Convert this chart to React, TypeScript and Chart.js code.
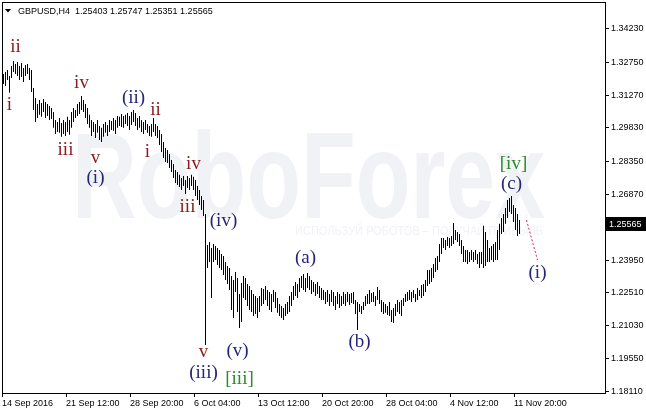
import React, { useEffect, useRef } from 'react';
import { Chart, registerables } from 'chart.js';

Chart.register(...registerables);

const symbolTitle = 'GBPUSD,H4';
const ohlcTitle = ['1.25403', '1.25747', '1.25351', '1.25565'];
const lastClose = 1.25565;

const highs = [
  1.3223, 1.3232, 1.3241, 1.3214, 1.3258, 1.3281, 1.3267, 1.3276, 1.3258, 1.3272,
  1.3249, 1.3263, 1.3267, 1.3249, 1.3241, 1.3160, 1.3116, 1.3089, 1.3107, 1.3094,
  1.3112, 1.3098, 1.3089, 1.3080, 1.3071, 1.3054, 1.3018, 1.3009, 1.3027, 1.3005,
  1.3018, 1.3009, 1.3032, 1.3018, 1.3054, 1.3071, 1.3063, 1.3089, 1.3098, 1.3125,
  1.3107, 1.3089, 1.3071, 1.3041, 1.3018, 1.3009, 1.3000, 1.3018, 1.2991, 1.2983,
  1.3000, 1.3009, 1.2996, 1.3018, 1.3014, 1.3027, 1.3018, 1.3036, 1.3032, 1.3045,
  1.3036, 1.3041, 1.3049, 1.3036, 1.3054, 1.3063, 1.3049, 1.3027, 1.3036, 1.3018,
  1.3009, 1.3018, 1.3000, 1.2991, 1.3000, 1.3027, 1.3000, 1.2991, 1.2974, 1.2956,
  1.2920, 1.2894, 1.2885, 1.2867, 1.2840, 1.2822, 1.2796, 1.2787, 1.2774, 1.2760,
  1.2769, 1.2751, 1.2769, 1.2760, 1.2774, 1.2765, 1.2751, 1.2724, 1.2707, 1.2680,
  1.2662, 1.2600, 1.2462, 1.2475, 1.2449, 1.2466, 1.2457, 1.2449, 1.2440, 1.2422,
  1.2413, 1.2386, 1.2369, 1.2360, 1.2324, 1.2306, 1.2342, 1.2315, 1.2244, 1.2293,
  1.2324, 1.2315, 1.2288, 1.2280, 1.2262, 1.2244, 1.2235, 1.2226, 1.2235, 1.2271,
  1.2266, 1.2280, 1.2262, 1.2253, 1.2244, 1.2262, 1.2253, 1.2226, 1.2199, 1.2190,
  1.2182, 1.2199, 1.2208, 1.2235, 1.2253, 1.2280, 1.2297, 1.2288, 1.2315, 1.2324,
  1.2333, 1.2315, 1.2337, 1.2324, 1.2306, 1.2297, 1.2288, 1.2297, 1.2280, 1.2271,
  1.2262, 1.2253, 1.2262, 1.2244, 1.2262, 1.2253, 1.2235, 1.2253, 1.2244, 1.2235,
  1.2253, 1.2244, 1.2253, 1.2244, 1.2248, 1.2253, 1.2217, 1.2208, 1.2199, 1.2190,
  1.2208, 1.2235, 1.2244, 1.2262, 1.2248, 1.2253, 1.2235, 1.2275, 1.2262, 1.2217,
  1.2208, 1.2199, 1.2190, 1.2208, 1.2173, 1.2182, 1.2199, 1.2217, 1.2208, 1.2217,
  1.2226, 1.2244, 1.2253, 1.2262, 1.2253, 1.2262, 1.2244, 1.2271, 1.2262, 1.2284,
  1.2288, 1.2306, 1.2351, 1.2351, 1.2360, 1.2377, 1.2404, 1.2413, 1.2466, 1.2493,
  1.2493, 1.2484, 1.2498, 1.2493, 1.2502, 1.2560, 1.2529, 1.2520, 1.2511, 1.2484,
  1.2457, 1.2440, 1.2440, 1.2431, 1.2440, 1.2431, 1.2440, 1.2422, 1.2431, 1.2431,
  1.2547, 1.2520, 1.2484, 1.2449, 1.2457, 1.2466, 1.2475, 1.2529, 1.2556, 1.2582,
  1.2600, 1.2627, 1.2662, 1.2671, 1.2680, 1.2640, 1.2627, 1.2600, 1.2573,
];

const lows = [
  1.3178, 1.3169, 1.3196, 1.3139, 1.3205, 1.3232, 1.3223, 1.3214, 1.3196, 1.3209,
  1.3187, 1.3214, 1.3223, 1.3196, 1.3143, 1.3063, 1.3009, 1.3027, 1.3041, 1.3032,
  1.3054, 1.3027, 1.3036, 1.3018, 1.3023, 1.2983, 1.2956, 1.2965, 1.2961, 1.2943,
  1.2956, 1.2947, 1.2965, 1.2952, 1.2983, 1.3009, 1.3027, 1.3036, 1.3045, 1.3063,
  1.3054, 1.3027, 1.3000, 1.2983, 1.2947, 1.2965, 1.2938, 1.2961, 1.2929, 1.2920,
  1.2943, 1.2961, 1.2947, 1.2965, 1.2974, 1.2970, 1.2956, 1.2983, 1.2991, 1.2987,
  1.2983, 1.3000, 1.2991, 1.2974, 1.2996, 1.3009, 1.2991, 1.2974, 1.2983, 1.2965,
  1.2956, 1.2974, 1.2961, 1.2947, 1.2943, 1.2965, 1.2947, 1.2938, 1.2907, 1.2876,
  1.2849, 1.2831, 1.2827, 1.2805, 1.2787, 1.2760, 1.2738, 1.2729, 1.2720, 1.2707,
  1.2724, 1.2689, 1.2716, 1.2707, 1.2724, 1.2707, 1.2680, 1.2662, 1.2640, 1.2618,
  1.2591, 1.2017, 1.2360, 1.2386, 1.2226, 1.2386, 1.2395, 1.2373, 1.2360, 1.2351,
  1.2328, 1.2306, 1.2288, 1.2262, 1.2173, 1.2137, 1.2253, 1.2164, 1.2093, 1.2119,
  1.2226, 1.2217, 1.2190, 1.2173, 1.2164, 1.2146, 1.2155, 1.2137, 1.2164, 1.2190,
  1.2199, 1.2217, 1.2190, 1.2173, 1.2164, 1.2208, 1.2182, 1.2160, 1.2146, 1.2137,
  1.2128, 1.2146, 1.2155, 1.2164, 1.2190, 1.2217, 1.2235, 1.2226, 1.2253, 1.2271,
  1.2262, 1.2253, 1.2271, 1.2262, 1.2244, 1.2253, 1.2235, 1.2244, 1.2226, 1.2217,
  1.2217, 1.2199, 1.2208, 1.2190, 1.2208, 1.2190, 1.2173, 1.2199, 1.2182, 1.2190,
  1.2199, 1.2190, 1.2208, 1.2195, 1.2204, 1.2199, 1.2155, 1.2084, 1.2164, 1.2155,
  1.2173, 1.2190, 1.2199, 1.2199, 1.2208, 1.2208, 1.2190, 1.2217, 1.2199, 1.2164,
  1.2155, 1.2160, 1.2150, 1.2146, 1.2119, 1.2115, 1.2146, 1.2164, 1.2155, 1.2146,
  1.2190, 1.2208, 1.2213, 1.2217, 1.2208, 1.2226, 1.2208, 1.2217, 1.2235, 1.2226,
  1.2235, 1.2253, 1.2280, 1.2288, 1.2297, 1.2315, 1.2342, 1.2351, 1.2386, 1.2422,
  1.2449, 1.2440, 1.2457, 1.2449, 1.2457, 1.2466, 1.2484, 1.2475, 1.2457, 1.2422,
  1.2386, 1.2386, 1.2377, 1.2386, 1.2395, 1.2386, 1.2395, 1.2377, 1.2360, 1.2377,
  1.2360, 1.2369, 1.2386, 1.2386, 1.2395, 1.2386, 1.2395, 1.2395, 1.2440, 1.2511,
  1.2520, 1.2556, 1.2582, 1.2609, 1.2600, 1.2564, 1.2529, 1.2502, 1.2511,
];

const dateLabels = ['14 Sep 2016', '21 Sep 12:00', '28 Sep 20:00', '6 Oct 04:00', '13 Oct 12:00', '20 Oct 20:00', '28 Oct 04:00', '4 Nov 12:00', '11 Nov 20:00'];
const dateBars = [0, 32, 64, 96, 128, 160, 192, 224, 256];
const priceTicks = [1.3423, 1.3275, 1.3127, 1.2983, 1.2835, 1.2687, 1.2543, 1.2395, 1.2251, 1.2103, 1.1955, 1.1811];

const waveText = ['ii', 'i', 'iv', 'iii', 'v', 'ii', 'i', 'iv', 'iii', 'v', '(ii)', '(i)', '(iv)', '(v)', '(iii)', '(a)', '(b)', '(c)', '(i)', '[iii]', '[iv]'];
const waveBar = [6, 3, 39, 31, 46, 76, 72, 95, 92, 100, 65, 46, 110, 117, 100, 151, 178, 254, 267, 118, 255];
const wavePrice = [1.3343, 1.3085, 1.3183, 1.2885, 1.2849, 1.3063, 1.2876, 1.2822, 1.2631, 1.1986, 1.3116, 1.2760, 1.2569, 1.1990, 1.1892, 1.2404, 1.2030, 1.2733, 1.2337, 1.1865, 1.2822];
const waveDegree = ['minuette', 'minuette', 'minuette', 'minuette', 'minuette', 'minuette', 'minuette', 'minuette', 'minuette', 'minuette', 'minute', 'minute', 'minute', 'minute', 'minute', 'minute', 'minute', 'minute', 'minute', 'minor', 'minor'];

const forecastBar = [261.5, 267];
const forecastPrice = [1.2573, 1.2395];

const degreeColor: Record<string, string> = {
  minuette: '#8b1a1a',
  minute: '#25257a',
  minor: '#2d8a2d',
};

const FONT = '"Liberation Sans", Arial, sans-serif';

export default function App() {
  const ref = useRef<HTMLCanvasElement | null>(null);

  useEffect(() => {
    const canvas = ref.current;
    if (!canvas) return;

    const bgPlugin = {
      id: 'bg',
      beforeDraw(chart: any) {
        const ctx = chart.ctx;
        ctx.save();
        ctx.fillStyle = '#ffffff';
        ctx.fillRect(0, 0, chart.width, chart.height);
        ctx.restore();
      },
      beforeDatasetsDraw(chart: any) {
        const ctx = chart.ctx;
        ctx.save();
        ctx.fillStyle = '#f0f2f6';
        ctx.font = 'bold 123px ' + FONT;
        ctx.textBaseline = 'alphabetic';
        const w = ctx.measureText('RoboForex').width;
        ctx.translate(72, 218);
        ctx.scale(473 / w, 1);
        ctx.fillText('RoboForex', 0, 0);
        ctx.restore();
        ctx.save();
        ctx.fillStyle = '#f0f2f6';
        ctx.font = '12px ' + FONT;
        ctx.textBaseline = 'middle';
        const s = 'ИСПОЛЬЗУЙ РОБОТОВ – ПОЛУЧАЙ ПРИБЫЛЬ';
        const w2 = ctx.measureText(s).width;
        ctx.translate(295, 232);
        ctx.scale(248 / w2, 1);
        ctx.fillText(s, 0, 0);
        ctx.restore();
      },
      afterDraw(chart: any) {
        const ctx = chart.ctx;
        const { left, top, right, bottom } = chart.chartArea;
        const xs = chart.scales.x;
        const ys = chart.scales.y;
        ctx.save();
        ctx.font = '19px "Liberation Serif", "Times New Roman", serif';
        ctx.textAlign = 'center';
        ctx.textBaseline = 'middle';
        waveText.forEach((t, i) => {
          ctx.fillStyle = degreeColor[waveDegree[i]];
          ctx.fillText(t, xs.getPixelForValue(waveBar[i]), ys.getPixelForValue(wavePrice[i]));
        });
        ctx.strokeStyle = '#000';
        ctx.lineWidth = 1;
        ctx.strokeRect(left + 0.5, top + 0.5, right - left - 1, bottom - top - 1);
        ctx.fillStyle = '#000';
        ctx.beginPath();
        ctx.moveTo(5, 9);
        ctx.lineTo(11, 9);
        ctx.lineTo(8, 12.5);
        ctx.closePath();
        ctx.fill();
        ctx.font = '9px ' + FONT;
        ctx.textAlign = 'left';
        ctx.textBaseline = 'middle';
        ctx.fillText(symbolTitle + '  ' + ohlcTitle.join(' '), 18, 12);
        const py = Math.round(ys.getPixelForValue(lastClose));
        ctx.fillStyle = '#000';
        ctx.fillRect(right, py - 7, chart.width - right, 14);
        ctx.fillStyle = '#fff';
        ctx.fillText(lastClose.toFixed(5), right + 3, py + 0.5);
        ctx.restore();
      },
    };

    const chart = new Chart(canvas, {
      type: 'bar',
      data: {
        datasets: [
          {
            type: 'bar',
            data: highs.map((h, i) => ({ x: i, y: [lows[i], h] })) as any,
            backgroundColor: '#000',
            borderWidth: 0,
            barThickness: 1,
            inflateAmount: 0,
            grouped: false,
          } as any,
          {
            type: 'line',
            data: forecastBar.map((b, i) => ({ x: b, y: forecastPrice[i] })) as any,
            borderColor: '#e0245e',
            borderWidth: 1,
            borderDash: [2, 2],
            pointRadius: 0,
            fill: false,
          } as any,
        ],
      },
      options: {
        responsive: false,
        animation: false,
        devicePixelRatio: 1,
        layout: { padding: { left: 2, top: 2, right: 0, bottom: 0 } },
        plugins: { legend: { display: false }, tooltip: { enabled: false } },
        scales: {
          x: {
            type: 'linear',
            position: 'bottom',
            min: -0.75,
            max: 301.25,
            offset: false,
            bounds: 'data',
            grid: { display: true, drawOnChartArea: false, drawTicks: true, tickLength: 3, color: '#000', offset: false },
            border: { display: false },
            afterBuildTicks: (s: any) => {
              s.ticks = dateBars.map((b) => ({ value: b - 0.75 }));
            },
            afterFit: (s: any) => {
              s.height = 20;
              s.paddingLeft = 0;
              s.paddingRight = 0;
            },
            ticks: {
              autoSkip: false,
              maxRotation: 0,
              minRotation: 0,
              align: 'start',
              padding: 1,
              color: '#000',
              font: { family: FONT, size: 9 },
              callback: (_v: any, i: number) => dateLabels[i],
            },
          } as any,
          y: {
            type: 'linear',
            position: 'right',
            min: 1.1799,
            max: 1.3543,
            bounds: 'data',
            beginAtZero: false,
            grid: { display: true, drawOnChartArea: false, drawTicks: true, tickLength: 3, color: '#000' },
            border: { display: false },
            afterBuildTicks: (s: any) => {
              s.ticks = priceTicks.map((v) => ({ value: v }));
            },
            afterFit: (s: any) => {
              s.width = 40;
              s.paddingTop = 0;
              s.paddingBottom = 0;
            },
            ticks: {
              padding: 2,
              color: '#000',
              font: { family: FONT, size: 9 },
              callback: (v: any) => Number(v).toFixed(5),
            },
          } as any,
        },
      },
      plugins: [bgPlugin],
    });

    return () => chart.destroy();
  }, []);

  return (
    <div style={{ position: 'fixed', left: 0, top: 0, width: 646, height: 414, background: '#fff' }}>
      <canvas ref={ref} width={646} height={414} style={{ display: 'block' }} />
    </div>
  );
}
